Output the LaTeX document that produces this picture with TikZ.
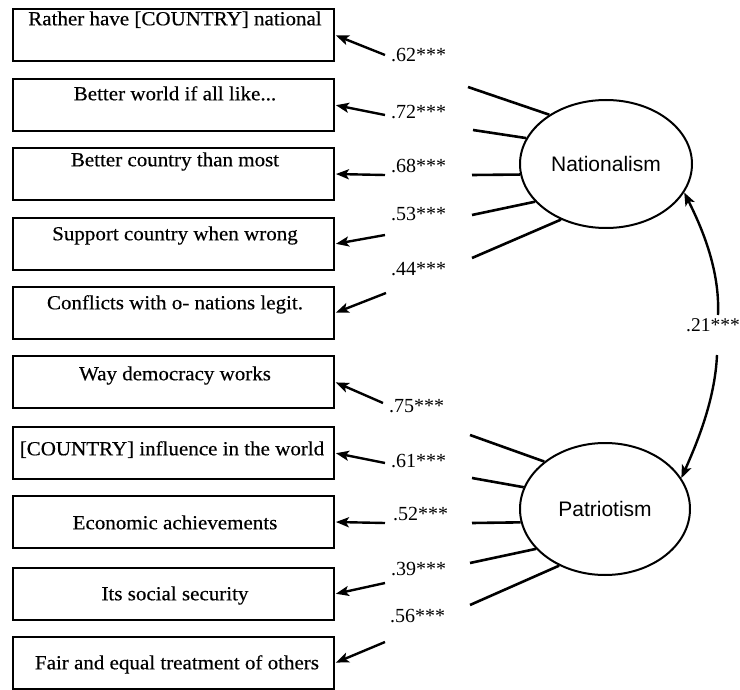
\documentclass[tikz,border=0pt]{standalone}
\usepackage{fontspec}
\setmainfont{Liberation Serif}
\newfontfamily\itemfont[FakeStretch=1.05,FakeBold=0.4]{Liberation Serif}
\newfontfamily\latentfont{Liberation Sans}
\usetikzlibrary{arrows.meta,shapes.geometric}

\tikzset{
  itembox/.style={draw, line width=1.8pt, minimum width=321pt, minimum height=52pt, inner sep=0pt},
  itemtext/.style={font=\itemfont\fontsize{20}{22}\selectfont, inner sep=0pt, anchor=mid},
  latent/.style={draw, ellipse, line width=2pt, inner sep=0pt, font=\latentfont\fontsize{21}{24}\selectfont},
  coefl/.style={font=\fontsize{20}{22}\selectfont, inner sep=0pt, anchor=mid west},
  loading/.style={line width=2.6pt},
  patharrow/.style={line width=2.4pt, shorten >=1pt, -{Stealth[length=13pt,width=10pt,inset=3pt]}},
}

\begin{document}
\begin{tikzpicture}[x=1pt, y=-1pt]
\useasboundingbox (0,0) rectangle (740,690);

% observed indicators
\node[itembox] (b1)  at (173.5,35)  {};
\node[itembox] (b2)  at (173.5,105) {};
\node[itembox] (b3)  at (173.5,174) {};
\node[itembox] (b4)  at (173.5,244) {};
\node[itembox] (b5)  at (173.5,313) {};
\node[itembox] (b6)  at (173.5,382) {};
\node[itembox] (b7)  at (173.5,453) {};
\node[itembox] (b8)  at (173.5,522) {};
\node[itembox] (b9)  at (173.5,594) {};
\node[itembox] (b10) at (173.5,663) {};

\node[itemtext] (t1)  at (175,23)  {Rather have [COUNTRY] national};
\node[itemtext] (t2)  at (175,98)  {Better world if all like...};
\node[itemtext] (t3)  at (175,164) {Better country than most};
\node[itemtext] (t4)  at (175,238) {Support country when wrong};
\node[itemtext] (t5)  at (175,307) {Conflicts with o- nations legit.};
\node[itemtext] (t6)  at (175,378) {Way democracy works};
\node[itemtext] (t7)  at (172,453) {[COUNTRY] influence in the world};
\node[itemtext] (t8)  at (175,527) {Economic achievements};
\node[itemtext] (t9)  at (175,598) {Its social security};
\node[itemtext] (t10) at (177,667) {Fair and equal treatment of others};

% latent factors
\node[latent, minimum width=172pt, minimum height=128pt] (nat) at (606,164) {Nationalism};
\node[latent, minimum width=170pt, minimum height=132pt] (pat) at (605,509) {Patriotism};

% loading coefficients
\node[coefl] (l1)  at (391,59)  {.62***};
\node[coefl] (l2)  at (391,116) {.72***};
\node[coefl] (l3)  at (391,170) {.68***};
\node[coefl] (l4)  at (391,218) {.53***};
\node[coefl] (l5)  at (391,273) {.44***};
\node[coefl] (l6)  at (389,410) {.75***};
\node[coefl] (l7)  at (391,465) {.61***};
\node[coefl] (l8)  at (393,518) {.52***};
\node[coefl] (l9)  at (391,573) {.39***};
\node[coefl] (l10) at (390,620) {.56***};
\node[coefl, font=\fontsize{19.5}{22}\selectfont] (r) at (686,329) {.21***};

% arrow tails beside the coefficients
\coordinate (a1)  at (385,55);
\coordinate (a2)  at (385,115);
\coordinate (a3)  at (385,175);
\coordinate (a4)  at (385,235);
\coordinate (a5)  at (386,293);
\coordinate (a6)  at (383,403);
\coordinate (a7)  at (385,463);
\coordinate (a8)  at (385,523);
\coordinate (a9)  at (385,583);
\coordinate (a10) at (385,642);

\foreach \i in {1,...,10} \draw[patharrow] (a\i) -- (b\i.east);

% line stubs leaving the factors
\coordinate (n1) at (468,87);
\coordinate (n2) at (473,130);
\coordinate (n3) at (472,175);
\coordinate (n4) at (472,215);
\coordinate (n5) at (472,258);
\coordinate (p1) at (470,435);
\coordinate (p2) at (472,478);
\coordinate (p3) at (472,523);
\coordinate (p4) at (470,563);
\coordinate (p5) at (470,605);

\draw[loading] (n1) -- (nat.139);
\draw[loading] (n2) -- (nat.162);
\draw[loading] (n3) -- (nat.187);
\draw[loading] (n4) -- (nat.208);
\draw[loading] (n5) -- (nat.231);
\draw[loading] (p1) -- (pat.142);
\draw[loading] (p2) -- (pat.165);
\draw[loading] (p3) -- (pat.189);
\draw[loading] (p4) -- (pat.210);
\draw[loading] (p5) -- (pat.231);

% factor correlation
\coordinate (rt) at (718,315);
\coordinate (rb) at (717,355);
\draw[patharrow, shorten >=0pt] (rt) .. controls (720,270) and (702,228) .. (nat.340);
\draw[patharrow, shorten >=0pt] (rb) .. controls (715,400) and (697,443) .. (pat.22);
\end{tikzpicture}
\end{document}
